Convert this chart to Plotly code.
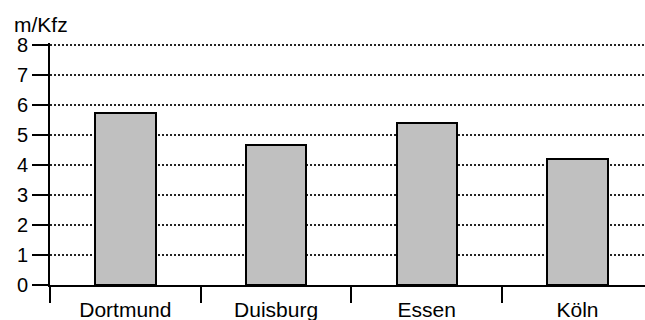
import plotly.graph_objects as go

# Average values per city (metres per vehicle)
cities = ["Dortmund", "Duisburg", "Essen", "Köln"]
values = [5.75, 4.67, 5.39, 4.21]
y_ticks = [0, 1, 2, 3, 4, 5, 6, 7, 8]
unit_label = "m/Kfz"

FONT = "Liberation Sans, Arial, sans-serif"

fig = go.Figure(
    go.Bar(
        x=cities,
        y=values,
        width=0.4,
        marker=dict(color="#C0C0C0", line=dict(color="black", width=2)),
        hoverinfo="x+y",
    )
)

fig.update_layout(
    width=645,
    height=320,
    margin=dict(l=50, r=0, t=43, b=35, autoexpand=False),
    paper_bgcolor="white",
    plot_bgcolor="white",
    font=dict(family=FONT, size=20, color="black"),
    showlegend=False,
    bargap=0,
)

fig.update_xaxes(
    type="category",
    range=[-0.5, 3.448],
    automargin=False,
    showline=True,
    linecolor="black",
    linewidth=2,
    ticks="outside",
    tickson="boundaries",
    ticklen=16,
    tickwidth=2,
    tickcolor="black",
    ticklabelstandoff=5,
    showgrid=False,
    tickfont=dict(family=FONT, size=21),
)

# a little headroom above 8 so its gridline is still drawn (30 px per unit)
fig.update_yaxes(
    range=[0, 242 / 30],
    automargin=False,
    tickvals=y_ticks,
    showline=True,
    linecolor="black",
    linewidth=2,
    ticks="outside",
    ticklen=16,
    tickwidth=2,
    tickcolor="black",
    ticklabelstandoff=0,
    showgrid=True,
    gridcolor="#222222",
    gridwidth=1.5,
    griddash="2px,2px",
    zeroline=False,
    tickfont=dict(family=FONT, size=20),
)

fig.add_annotation(
    text=unit_label,
    xref="paper",
    yref="paper",
    x=-38 / 595,
    y=1,
    xanchor="left",
    yanchor="bottom",
    yshift=5,
    showarrow=False,
    font=dict(family=FONT, size=21),
)

fig.write_html("out.html")
